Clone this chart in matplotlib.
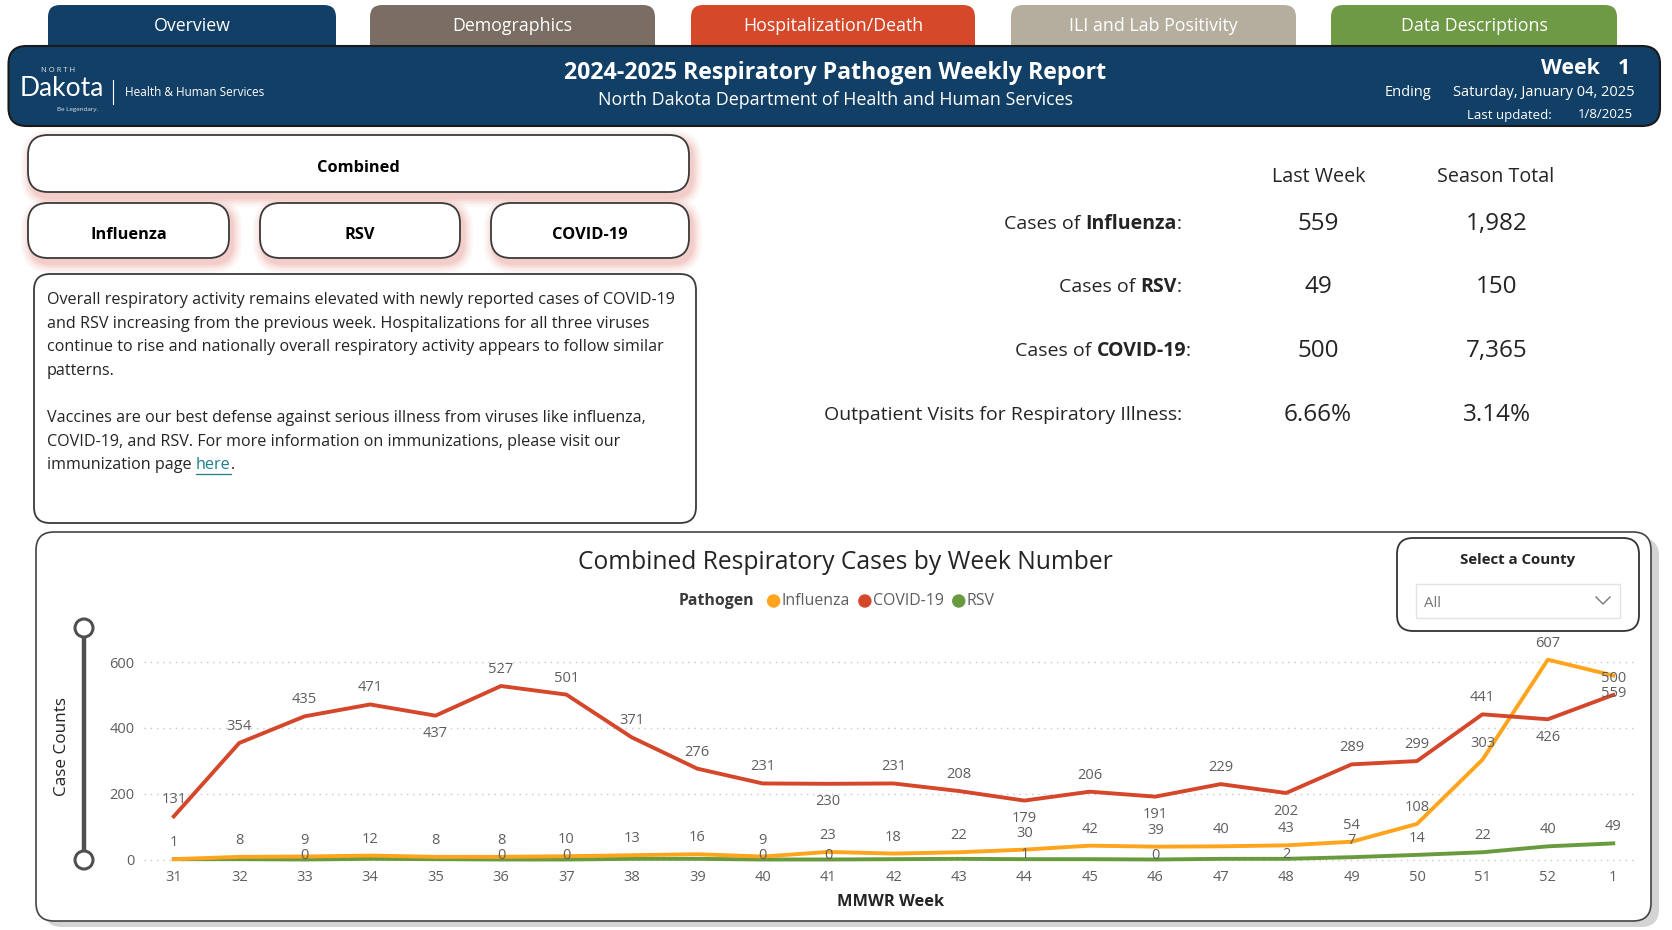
import matplotlib
matplotlib.use("Agg")
import matplotlib.pyplot as plt
from matplotlib.patches import FancyBboxPatch, Circle

# ---------------- data ----------------
weeks = ["31", "32", "33", "34", "35", "36", "37", "38", "39", "40", "41", "42",
         "43", "44", "45", "46", "47", "48", "49", "50", "51", "52", "1"]
influenza = [1, 8, 9, 12, 8, 8, 10, 13, 16, 9, 23, 18, 22, 30, 42, 39, 40, 43, 54, 108, 303, 607, 559]
covid = [131, 354, 435, 471, 437, 527, 501, 371, 276, 231, 230, 231, 208, 179, 206, 191, 229, 202,
         289, 299, 441, 426, 500]
rsv = [1, 1, 0, 2, 1, 0, 0, 2, 2, 0, 0, 1, 2, 1, 1, 0, 2, 2, 7, 14, 22, 40, 49]

tabs = ["Overview", "Demographics", "Hospitalization/Death", "ILI and Lab Positivity", "Data Descriptions"]
stat_labels = [("Cases of ", "Influenza", ":"), ("Cases of ", "RSV", ":"),
               ("Cases of ", "COVID-19", ":"), ("Outpatient Visits for Respiratory Illness:", "", "")]
last_week = ["559", "49", "500", "6.66%"]
season_total = ["1,982", "150", "7,365", "3.14%"]
y_ticks = [0, 200, 400, 600]

# label placement (style): a = above, b = below, c = on line, - = hidden
covid_pos = "aaaabaaaaabaabababaaaba"
flu_pos = "aaaaaaaaaaaaaaaaaaaaaab"
rsv_pos = "--c--cc--cc--c-c-caaaaa"

# ---------------- styles ----------------
FONT = "Open Sans"
plt.rcParams["font.family"] = [FONT, "DejaVu Sans"]
C_FLU, C_COV, C_RSV = "#FFA41C", "#D5472A", "#6A9A3E"
NAVY = "#123F66"
GRAY = "#605E5C"
tab_colors = ["#123F66", "#7A6E64", "#D5492A", "#B5AE9F", "#6F9A45"]

W, H = 1672, 930
fig = plt.figure(figsize=(W / 100, H / 100), dpi=100)
fig.patch.set_facecolor("white")
bg = fig.add_axes([0, 0, 1, 1])
bg.set_xlim(0, W)
bg.set_ylim(H, 0)
bg.axis("off")
R = fig.canvas.get_renderer()


def rbox(x0, y0, x1, y1, r, fc="white", ec="none", lw=0, z=1, alpha=1.0):
    p = FancyBboxPatch((x0, y0), x1 - x0, y1 - y0,
                       boxstyle=f"round,pad=0,rounding_size={r}",
                       fc=fc, ec=ec, lw=lw, zorder=z, alpha=alpha)
    bg.add_patch(p)
    return p


def txt(x, y, s, size, color="black", weight="normal", ha="center", va="center", z=10, **kw):
    return bg.text(x, y, s, fontsize=size, color=color, fontweight=weight,
                   ha=ha, va=va, zorder=z, **kw)


def width_px(t):
    return t.get_window_extent(renderer=R).width


# ---------------- tabs ----------------
tab_x = [(48, 336), (370, 655), (691, 975), (1011, 1296), (1331, 1617)]
for (x0, x1), name, col in zip(tab_x, tabs, tab_colors):
    rbox(x0, 5, x1, 70, 12, fc=col, z=1)
    txt((x0 + x1) / 2, 26, name, 12.8, color="white", z=3)

# ---------------- header ----------------
rbox(8.5, 46, 1660, 126, 18, fc=NAVY, ec="#1a1a1a", lw=1.5, z=4)
txt(835, 73, "2024-2025 Respiratory Pathogen Weekly Report", 16.7, color="white", weight="bold", z=6)
txt(835, 100, "North Dakota Department of Health and Human Services", 12.9, color="white", z=6)
txt(1600, 68, "Week", 15.5, color="white", weight="bold", ha="right", z=6)
txt(1630, 68, "1", 15.5, color="white", weight="bold", ha="right", z=6)
txt(1408, 93, "Ending", 10.5, color="white", z=6)
txt(1544, 93, "Saturday, January 04, 2025", 10.5, color="white", z=6)
txt(1509, 115, "Last updated:", 9.5, color="white", z=6)
txt(1605, 115, "1/8/2025", 9.5, color="white", z=6)
# logo
txt(58, 70, "N O R T H", 5.5, color="#dfe6ee", z=6)
txt(20, 89, "Dakota", 19, color="white", ha="left", z=6, family=["Lato", "DejaVu Sans"])
txt(78, 109, "Be Legendary.", 4.5, color="#dfe6ee", z=6)
bg.plot([113, 113], [80, 104], color="white", lw=0.8, zorder=6)
txt(125, 92, "Health & Human Services", 8.5, color="white", ha="left", z=6)

# ---------------- filter buttons ----------------
buttons = [((28, 135, 689, 192), "Combined"), ((28, 203, 229, 258), "Influenza"),
           ((260, 203, 460, 258), "RSV"), ((491, 203, 689, 258), "COVID-19")]
for (x0, y0, x1, y1), label in buttons:
    for i, a in enumerate([0.05, 0.06, 0.08, 0.10, 0.13]):
        g = 10 - 2 * i
        rbox(x0 - g + 3, y0 - g + 5, x1 + g + 3, y1 + g + 5, 20 + g, fc="#E47A6E", alpha=a, z=2)
    rbox(x0, y0, x1, y1, 20, fc="white", ec="#3a3a3a", lw=1.3, z=3)
    txt((x0 + x1) / 2, (y0 + y1) / 2 + 4, label, 11.8, weight="bold", z=4)

# ---------------- text box ----------------
rbox(34, 274, 696, 523, 16, fc="white", ec="#3a3a3a", lw=1.3, z=3)
para1 = ["Overall respiratory activity remains elevated with newly reported cases of COVID-19",
         "and RSV increasing from the previous week. Hospitalizations for all three viruses",
         "continue to rise and nationally overall respiratory activity appears to follow similar",
         "patterns."]
para2 = ["Vaccines are our best defense against serious illness from viruses like influenza,",
         "COVID-19, and RSV. For more information on immunizations, please visit our"]
BODY = 11.6
ys1 = [300, 323.5, 347, 370.5]
ys2 = [418, 441.5]
for s, y in zip(para1, ys1):
    txt(47, y, s, BODY, color="#252423", ha="left", z=5)
for s, y in zip(para2, ys2):
    txt(47, y, s, BODY, color="#252423", ha="left", z=5)
t_imm = txt(47, 465, "immunization page ", BODY, color="#252423", ha="left", z=5)
xh = 47 + width_px(t_imm)
t_here = txt(xh, 465, "here", BODY, color="#1F7E86", ha="left", z=5)
wh = width_px(t_here)
bg.plot([xh, xh + wh], [474, 474], color="#1F7E86", lw=0.9, zorder=5)
txt(xh + wh, 465, ".", BODY, color="#252423", ha="left", z=5)

# ---------------- stats table ----------------
txt(1319, 177, "Last Week", 14.2, color="#252423", z=5)
txt(1496, 177, "Season Total", 14.2, color="#252423", z=5)
row_y = [224, 287, 351, 415]
row_right = [1182, 1182, 1191, 1182]
for (pre, bold, post), y, xr, lw_, st in zip(stat_labels, row_y, row_right, last_week, season_total):
    x = xr
    if post:
        t = txt(x, y, post, 14, color="#252423", ha="right", z=5)
        x -= width_px(t)
    if bold:
        t = txt(x, y, bold, 14, color="#252423", weight="bold", ha="right", z=5)
        x -= width_px(t)
    txt(x, y, pre, 14, color="#252423", ha="right", z=5)
    txt(1318, y, lw_, 17.5, color="#252423", z=5)
    txt(1497, y, st, 17.5, color="#252423", z=5)

# ---------------- chart panel ----------------
rbox(44, 538, 1659, 927, 18, fc="#b8b8b8", alpha=0.6, z=2)
rbox(36, 532, 1651, 921, 18, fc="white", ec="#444444", lw=1.2, z=3)
txt(845, 562, "Combined Respiratory Cases by Week Number", 17.7, color="#252423", z=5)

# legend (built left to right)
lx, ly = 679, 601
LEG = 11.4
t = txt(lx, ly, "Pathogen", LEG, color="#3b3a39", weight="bold", ha="left", z=5)
lx += width_px(t) + 19
for name, col in [("Influenza", C_FLU), ("COVID-19", C_COV), ("RSV", C_RSV)]:
    bg.add_patch(Circle((lx, ly), 6, color=col, zorder=5))
    t = txt(lx + 8, ly, name, LEG, color=GRAY, ha="left", z=5)
    lx += 8 + width_px(t) + 15

# county slicer
rbox(1397, 538, 1639, 631, 16, fc="white", ec="#333333", lw=1.3, z=5)
txt(1518, 560, "Select a County", 10.8, color="#252423", weight="bold", z=6)
bg.add_patch(plt.Rectangle((1416, 584), 204, 34, fc="white", ec="#e3e3e3", lw=1, zorder=6))
txt(1424, 603, "All", 10.8, color="#777777", ha="left", z=7)
bg.plot([1596, 1603, 1610], [597, 604, 597], color="#777777", lw=1, zorder=7)

# slider
bg.plot([84, 84], [628, 860], color="#505050", lw=3.2, zorder=5, solid_capstyle="butt")
for yy in (628, 860):
    bg.add_patch(Circle((84, yy), 9, fc="white", ec="#505050", lw=2.2, zorder=6))
txt(62, 746, "Case Counts", 12.3, color="#252423", rotation=90, z=6)

# ---------------- line chart ----------------
left, right, top, bottom = 144, 1637, 600, 866
y0px, y600px = 859.5, 662.0
k = (y0px - y600px) / 600.0
step = 65.43
x_first = 173.8
xmin = -(x_first - left) / step
xmax = xmin + (right - left) / step
ymin = -(bottom - y0px) / k
ymax = (y0px - top) / k

ax = fig.add_axes([left / W, 1 - bottom / H, (right - left) / W, (bottom - top) / H])
ax.set_zorder(8)
ax.patch.set_alpha(0)
ax.set_xlim(xmin, xmax)
ax.set_ylim(ymin, ymax)
for s in ax.spines.values():
    s.set_visible(False)
xs = list(range(len(weeks)))
ax.set_xticks(xs)
ax.set_xticklabels(weeks)
ax.set_yticks(y_ticks)
ax.set_yticklabels([str(v) for v in y_ticks])
ax.tick_params(axis="both", length=0, labelsize=10.5, labelcolor=GRAY)
ax.tick_params(axis="x", pad=3)
ax.tick_params(axis="y", pad=7)
for v in y_ticks:
    ax.axhline(v, color="#c8c8c8", lw=1, ls=(0, (1, 3.5)), zorder=0)

ax.plot(xs, rsv, color=C_RSV, lw=2.8, zorder=3, solid_joinstyle="round")
ax.plot(xs, influenza, color=C_FLU, lw=2.8, zorder=4, solid_joinstyle="round")
ax.plot(xs, covid, color=C_COV, lw=2.8, zorder=5, solid_joinstyle="round")

offs = {"a": 11.9, "b": -13.0, "c": 3.2}
for series, pos in [(covid, covid_pos), (influenza, flu_pos), (rsv, rsv_pos)]:
    for x, v, p in zip(xs, series, pos):
        if p == "-":
            continue
        ax.annotate(str(v), (x, v), xytext=(0, offs[p]), textcoords="offset points",
                    ha="center", va="center", fontsize=10.5, color=GRAY, zorder=7,
                    annotation_clip=False)

ax.set_xlabel("MMWR Week", fontsize=11.8, fontweight="bold", color="#252423", labelpad=6)

fig.savefig("out.png", dpi=100, facecolor="white")
